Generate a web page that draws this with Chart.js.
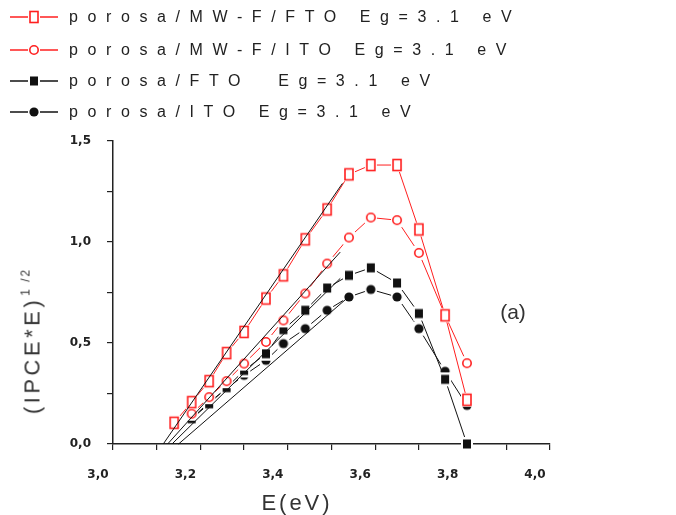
<!DOCTYPE html>
<html lang="pt">
<head>
<meta charset="UTF-8"/>
<title>(IPCE*E)^1/2 vs E</title>
<script src="https://cdn.jsdelivr.net/npm/chart.js@4.4.3/dist/chart.umd.min.js"></script>
<style>
  *{box-sizing:border-box;margin:0;padding:0}
  body{background:#fff;width:676px;height:515px;overflow:hidden;font-family:'Liberation Sans',Arial,sans-serif;color:#222}
  #wrap{position:relative;width:676px;height:515px}
  #chart{position:absolute;left:0;top:0}
  .leg{position:absolute;left:10px;height:20px;display:flex;align-items:center;white-space:pre}
  .leg canvas{display:block}
  .leg span{margin-left:11px;font-size:16px;letter-spacing:9.6px;color:#222}
  #ytitle{position:absolute;left:32px;top:341px;transform:translate(-50%,-50%) rotate(-90deg);white-space:nowrap;font-size:22px;letter-spacing:3.5px;color:#333}
  #ytitle sup{font-size:12px;letter-spacing:2px;vertical-align:10px;margin-left:1px}
  #xtitle{position:absolute;left:297px;top:503px;transform:translate(-50%,-50%);font-size:22px;letter-spacing:3px;color:#333}
  #tag{position:absolute;left:513px;top:312px;transform:translate(-50%,-50%);font-size:21px;color:#333}
</style>
</head>
<body>
<div id="wrap">
  <canvas id="chart" width="676" height="515"></canvas>
  <div id="legend"></div>
  <div id="ytitle">(IPCE*E)<sup>1 /2</sup></div>
  <div id="xtitle">E(eV)</div>
  <div id="tag">(a)</div>
</div>

<script>
// ─── Data ─────────────────────────────────────────────────────────────────────
const energy   = [3.14, 3.18, 3.22, 3.26, 3.30, 3.35, 3.39, 3.44, 3.49, 3.54, 3.59, 3.65, 3.70, 3.76, 3.81];
const mwFto    = [0.105, 0.207, 0.311, 0.450, 0.555, 0.720, 0.835, 1.013, 1.161, 1.335, 1.381, 1.381, 1.062, 0.637, 0.219];
const mwIto    = [null, 0.150, 0.232, 0.311, 0.398, 0.505, 0.612, 0.745, 0.893, 1.022, 1.121, 1.108, 0.946, 0.637, 0.400];
const porFto   = [null, 0.125, 0.199, 0.279, 0.364, 0.447, 0.566, 0.662, 0.772, 0.835, 0.872, 0.797, 0.646, 0.320, 0.000];
const porIto   = [null, 0.125, 0.207, 0.274, 0.340, 0.414, 0.497, 0.571, 0.662, 0.728, 0.765, 0.728, 0.571, 0.360, 0.191];

// linear fits (end points) used for Eg extrapolation
const fitMwFtoX  = [3.115, 3.525], fitMwFtoY  = [0, 1.29];
const fitMwItoX  = [3.125, 3.520], fitMwItoY  = [0, 0.95];
const fitPorFtoX = [3.135, 3.520], fitPorFtoY = [0, 0.82];
const fitPorItoX = [3.150, 3.540], fitPorItoY = [0, 0.73];

const seriesNames = [
  'porosa/MW-F/FTO Eg=3.1 eV',
  'porosa/MW-F/ITO Eg=3.1 eV',
  'porosa/FTO  Eg=3.1 eV',
  'porosa/ITO Eg=3.1 eV',
];
const xTickLabels = ['3,0', '3,2', '3,4', '3,6', '3,8', '4,0'];
const yTickLabels = ['0,0', '0,5', '1,0', '1,5'];

const RED = '#ff1f1f', BLACK = '#111';

// ─── Marker images ────────────────────────────────────────────────────────────
function marker(kind) {
  const c = document.createElement('canvas');
  c.width = 14; c.height = 16;
  const g = c.getContext('2d');
  const cx = 7, cy = 8;
  g.fillStyle = '#fff';                       // white halo -> gap between line & symbol
  g.fillRect(cx - 6, cy - 7, 12, 14);
  if (kind === 'rsq') {
    g.strokeStyle = RED; g.lineWidth = 1.6;
    g.strokeRect(cx - 4, cy - 5.5, 8, 11);
  } else if (kind === 'rci') {
    g.strokeStyle = RED; g.lineWidth = 1.6;
    g.beginPath(); g.arc(cx, cy, 4.2, 0, Math.PI * 2); g.stroke();
  } else if (kind === 'bsq') {
    g.fillStyle = BLACK; g.fillRect(cx - 4, cy - 4.5, 8, 9);
  } else {
    g.fillStyle = BLACK;
    g.beginPath(); g.arc(cx, cy, 4.6, 0, Math.PI * 2); g.fill();
  }
  return c;
}
const markers = ['rsq', 'rci', 'bsq', 'bci'].map(marker);
const colors  = [RED, RED, BLACK, BLACK];

// ─── Legend (HTML) ────────────────────────────────────────────────────────────
const legendY = [7, 40, 71, 102];
seriesNames.forEach((name, i) => {
  const row = document.createElement('div');
  row.className = 'leg';
  row.style.top = legendY[i] + 'px';
  const ic = document.createElement('canvas');
  ic.width = 48; ic.height = 20;
  const g = ic.getContext('2d');
  g.strokeStyle = colors[i]; g.lineWidth = 1.5;
  g.beginPath(); g.moveTo(0, 10); g.lineTo(48, 10); g.stroke();
  g.drawImage(markers[i], 24 - 7, 10 - 8);
  const t = document.createElement('span');
  t.textContent = name;
  row.appendChild(ic); row.appendChild(t);
  document.getElementById('legend').appendChild(row);
});

// ─── Chart ────────────────────────────────────────────────────────────────────
function pts(xs, ys) {
  return xs.map((x, i) => ({ x, y: ys[i] })).filter(p => p.y !== null);
}
function dataSet(label, ys, i) {
  return { label, data: pts(energy, ys), borderColor: colors[i], borderWidth: 1,
    pointStyle: markers[i], pointRadius: 6, tension: 0, clip: false, order: 2 };
}
function fitSet(xs, ys) {
  return { label: 'fit', data: pts(xs, ys), borderColor: BLACK, borderWidth: 1,
    pointRadius: 0, tension: 0, clip: false, order: 1 };
}

const tickFont = { family: "'DejaVu Sans', sans-serif", size: 12, weight: 'bold' };

new Chart(document.getElementById('chart'), {
  type: 'line',
  data: {
    datasets: [
      fitSet(fitMwFtoX, fitMwFtoY),
      fitSet(fitMwItoX, fitMwItoY),
      fitSet(fitPorFtoX, fitPorFtoY),
      fitSet(fitPorItoX, fitPorItoY),
      dataSet(seriesNames[0], mwFto, 0),
      dataSet(seriesNames[1], mwIto, 1),
      dataSet(seriesNames[2], porFto, 2),
      dataSet(seriesNames[3], porIto, 3),
    ],
  },
  options: {
    responsive: false, animation: false, devicePixelRatio: 1,
    layout: { padding: { top: 141, right: 126, left: 0, bottom: 0 } },
    plugins: { legend: { display: false }, tooltip: { enabled: false } },
    scales: {
      x: {
        type: 'linear', min: 3.0, max: 4.0,
        afterFit: s => { s.height = 71; },
        border: { display: true, color: '#222', width: 1.5 },
        grid: { drawOnChartArea: false, drawTicks: true, tickLength: 6, color: '#222', lineWidth: 1.2 },
        ticks: {
          stepSize: 0.1, autoSkip: false, maxRotation: 0, padding: 18, labelOffset: -15,
          color: '#222', font: tickFont,
          callback: v => {
            const k = Math.round(v * 10);
            return k % 2 === 0 ? xTickLabels[k / 2 - 15] : '';
          },
        },
      },
      y: {
        min: 0, max: 1.5,
        afterFit: s => { s.width = 113; },
        border: { display: true, color: '#222', width: 1.5 },
        grid: { drawOnChartArea: false, drawTicks: true, tickLength: 6, color: '#222', lineWidth: 1.2 },
        ticks: {
          stepSize: 0.25, autoSkip: false, padding: 16,
          color: '#222', font: tickFont,
          callback: v => {
            const k = Math.round(v * 4);
            return k % 2 === 0 ? yTickLabels[k / 2] : '';
          },
        },
      },
    },
  },
});
</script>
</body>
</html>
